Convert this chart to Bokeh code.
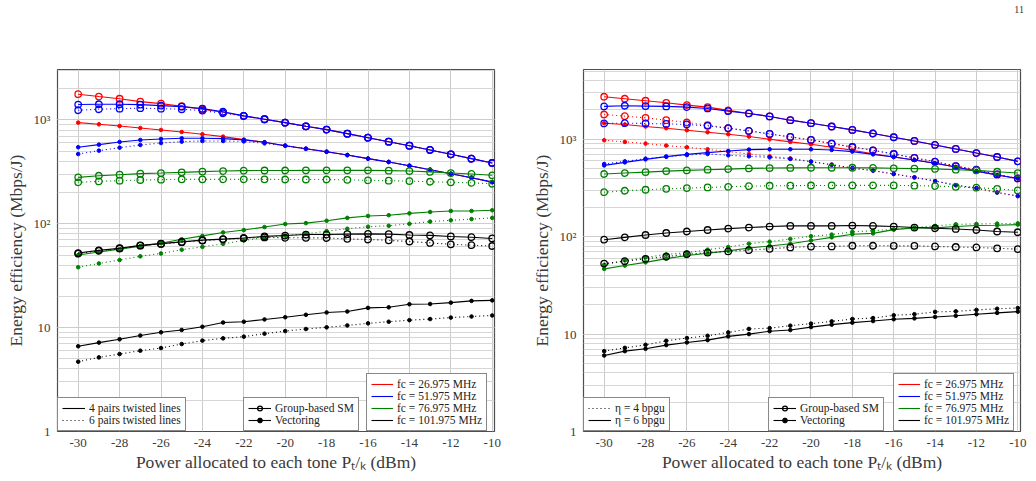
from bokeh.plotting import figure
from bokeh.layouts import row, column
from bokeh.models import ColumnDataSource, Legend, LegendItem, Range1d, Div
from bokeh.embed import file_html
from bokeh.resources import INLINE

# ---------------- data ----------------
power = [-30, -29, -28, -27, -26, -25, -24, -23, -22, -21, -20,
         -19, -18, -17, -16, -15, -14, -13, -12, -11, -10]

# Left chart: 4 pairs (solid) vs 6 pairs (dotted) twisted lines
L_red_sm_4 = [1770, 1680, 1600, 1500, 1435, 1355, 1268, 1187, 1093, 1016, 942,
              869, 807, 738, 675, 617, 565, 514, 467, 424, 385]
L_blue_sm_4 = [1407, 1416, 1416, 1405, 1375, 1343, 1285, 1200, 1095, 1016, 942,
               869, 807, 738, 675, 617, 565, 514, 467, 424, 385]
L_blue_sm_6 = [1240, 1268, 1285, 1297, 1285, 1268, 1230, 1160, 1093, 1016, 942,
               869, 807, 738, 675, 617, 565, 514, 467, 424, 385]
L_red_vec_4 = [942, 908, 875, 837, 801, 766, 728, 691, 646, 610, 565,
               528, 494, 459, 424, 394, 362, 332, 303, 278, 252]
L_blue_vec_4 = [546, 578, 614, 641, 656, 666, 666, 661, 643, 610, 565,
                528, 494, 459, 424, 394, 362, 332, 303, 278, 252]
L_blue_vec_6 = [470, 506, 541, 574, 600, 618, 627, 627, 622, 595, 565,
                528, 494, 459, 424, 394, 362, 332, 303, 278, 252]
L_green_sm_4 = [280, 290, 297, 304, 308, 313, 318, 322, 325, 326, 326,
                327, 327, 327, 327, 325, 322, 316, 308, 302, 293]
L_green_sm_6 = [251, 256, 260, 264, 266, 268, 268, 268, 268, 268, 267,
                267, 267, 265, 262, 260, 258, 254, 251, 248, 243]
L_green_vec_4 = [50, 53.5, 57, 61, 65, 71, 76.5, 82.5, 87, 93, 99.5,
                 101.5, 107, 114, 119, 121, 126, 130, 133, 133, 135]
L_green_vec_6 = [38.2, 41.5, 44.8, 48.6, 51.8, 56.3, 60, 64.1, 69.1, 73.8, 77,
                 80, 85, 89.6, 93.7, 95.7, 100, 105, 108, 111, 114]
L_black_sm_4 = [52.3, 55.5, 58.2, 62, 64.4, 67, 69.6, 71.2, 73, 75.7, 77.1,
                78.8, 78.8, 79.5, 80, 79.5, 78, 77.3, 75.5, 74.3, 72.3]
L_black_sm_6 = [51.5, 55, 57.8, 61.5, 64, 66.5, 69, 70.8, 72.5, 74, 73.3,
                73.3, 73, 71.6, 70.6, 69.3, 67.5, 65.5, 63.5, 62.2, 61.1]
L_black_vec_4 = [6.62, 7.18, 7.73, 8.39, 9.02, 9.5, 10.2, 11.2, 11.4, 12.0, 12.6,
                 13.3, 14.0, 14.3, 15.5, 15.7, 16.8, 16.9, 17.4, 18.1, 18.3]
L_black_vec_6 = [4.70, 5.17, 5.57, 6.0, 6.36, 6.95, 7.5, 7.89, 8.19, 8.75, 9.27,
                 9.70, 10.07, 10.5, 11.0, 11.4, 11.8, 12.1, 12.5, 12.8, 13.1]

# Right chart: eta = 6 bpgu (solid) vs eta = 4 bpgu (dotted)
R_red_sm_6 = [2730, 2604, 2484, 2368, 2242, 2138, 1977, 1841, 1714, 1570, 1462,
              1352, 1247, 1145, 1049, 961, 874, 795, 722, 657, 593]
R_blue_sm_6 = [2173, 2207, 2190, 2173, 2138, 2070, 1943, 1841, 1714, 1570, 1462,
               1352, 1247, 1145, 1049, 961, 874, 795, 722, 657, 593]
R_red_sm_4 = [1796, 1726, 1660, 1570, 1486, 1394, 1297, 1218, 1134, 1056, 984,
              903, 833, 770, 706, 643, 589, 531, 487, 435, 396]
R_blue_sm_4 = [1452, 1462, 1452, 1438, 1419, 1372, 1298, 1218, 1134, 1056, 984,
               903, 833, 770, 706, 643, 589, 531, 487, 435, 396]
R_red_vec_6 = [1462, 1419, 1352, 1298, 1238, 1181, 1127, 1066, 1000, 939, 888,
               827, 770, 711, 657, 612, 566, 519, 471, 429, 396]
R_blue_vec_6 = [539, 579, 622, 663, 700, 729, 758, 783, 789, 789, 789,
                776, 747, 700, 657, 612, 566, 519, 471, 429, 396]
R_red_vec_4 = [977, 939, 903, 861, 827, 789, 747, 706, 668, 637, 589,
               548, 506, 476, 440, 406, 372, 338, 315, 284, 261]
R_blue_vec_4 = [557, 593, 632, 663, 689, 706, 684, 668, 652, 627, 589,
                548, 506, 476, 440, 406, 372, 338, 315, 284, 261]
R_green_sm_6 = [440, 450, 460, 471, 479, 487, 494, 502, 506, 508, 510,
                510, 510, 508, 503, 499, 496, 487, 479, 464, 450]
R_green_sm_4 = [286, 296, 303, 310, 315, 320, 325, 330, 333, 334, 335,
                336, 336, 336, 336, 334, 331, 325, 318, 310, 298]
R_green_vec_6 = [46.7, 50.5, 54.5, 59.5, 64, 67.5, 71.5, 76.4, 80.2, 84.7, 91.5,
                 98.4, 106, 108, 118, 123, 123, 127, 130, 131, 133]
R_green_vec_4 = [51.4, 57, 61.2, 65.8, 68.4, 73.5, 78.3, 84.7, 88.8, 94.7, 101,
                 105, 112, 115, 119, 124, 129, 134, 135, 136, 137]
R_black_sm_6 = [93.1, 98.4, 104, 109, 113, 117, 121, 124, 127, 129, 129,
                129, 130, 129, 127, 124, 122, 120, 117, 113, 111]
R_black_sm_4 = [53, 56, 59.3, 62.4, 66, 68.6, 70.6, 72.7, 75, 77.6, 79.2,
                79.4, 80.7, 80.7, 80.5, 80.5, 79.4, 78.3, 77.5, 76, 74.5]
R_black_vec_6 = [6.03, 6.68, 7.06, 7.71, 8.21, 8.67, 9.47, 10.0, 10.7, 11.0, 11.8,
                 12.5, 13.1, 13.6, 14.2, 14.5, 15.0, 15.4, 16.0, 16.5, 17.0]
R_black_vec_4 = [6.68, 7.22, 7.76, 8.53, 9.1, 9.6, 10.4, 11.3, 11.5, 12.2, 12.8,
                 13.5, 14.3, 14.6, 15.6, 16.0, 16.9, 17.1, 17.7, 18.2, 18.5]

freq_labels = ["fc = 26.975 MHz", "fc = 51.975 MHz", "fc = 76.975 MHz", "fc = 101.975 MHz"]
x_ticks = [-30, -28, -26, -24, -22, -20, -18, -16, -14, -12, -10]
y_tick_labels = {1: "1", 10: "10", 100: "10²", 1000: "10³"}
page_number = "11"

# ---------------- style ----------------
FONT = "Liberation Serif"
RED, BLUE, GREEN, BLACK = "#ff0000", "#0000ff", "#008000", "#000000"
COLORS = [RED, BLUE, GREEN, BLACK]
DOT = "1 3"
TXT = "#3a3a3a"
NAN = float("nan")
HEADER_H = 20


def make_fig(width, ymax, xmax, border_left, border_right, series):
    p = figure(width=width, height=481 - HEADER_H,
               x_range=Range1d(-31, xmax), y_range=Range1d(1, ymax),
               y_axis_type="log", output_backend="svg", toolbar_location=None,
               min_border_left=border_left, min_border_right=border_right,
               min_border_top=69 - HEADER_H, min_border_bottom=50)
    p.outline_line_color = "#4d4d4d"
    p.outline_line_width = 1.2
    p.background_fill_color = "white"
    p.border_fill_color = "white"
    p.xgrid.grid_line_color = "#cccccc"
    p.ygrid.grid_line_color = "#cccccc"
    p.ygrid.minor_grid_line_color = "#d6d6d6"
    p.xgrid.grid_line_width = 1
    p.ygrid.grid_line_width = 1
    p.xaxis.ticker = x_ticks
    p.xaxis.major_label_overrides = {t: str(t) for t in x_ticks}
    p.yaxis.major_label_overrides = y_tick_labels
    for ax in (p.xaxis[0], p.yaxis[0]):
        ax.axis_line_color = None
        ax.major_tick_line_color = None
        ax.minor_tick_line_color = None
        ax.major_tick_out = 0
        ax.minor_tick_out = 0
        ax.major_label_text_font = FONT
        ax.major_label_text_font_size = "13px"
        ax.major_label_text_color = TXT
        ax.axis_label_text_font = FONT
        ax.axis_label_text_font_size = "17.5px"
        ax.axis_label_text_font_style = "normal"
        ax.axis_label_text_color = TXT
    p.xaxis.major_label_standoff = 7
    p.xaxis.axis_label_standoff = 2
    p.yaxis.major_label_standoff = 7
    p.yaxis.axis_label_standoff = 5
    p.xaxis.axis_label = "Power allocated to each tone Pₜ/ₖ (dBm)"
    p.yaxis.axis_label = "Energy efficiency (Mbps/J)"

    for vals, color, dash, marker in series:
        src = ColumnDataSource(dict(x=power, y=vals))
        p.line("x", "y", source=src, line_color=color, line_width=1.1, line_dash=dash)
        if marker == "circle":
            p.scatter("x", "y", source=src, marker="circle", size=6.5,
                      line_color=color, line_width=1.3, fill_color=None)
        else:
            p.scatter("x", "y", source=src, marker="circle", size=3.6,
                      line_color=color, fill_color=color)
    return p


def dummy(p, color, dash="solid", marker=None):
    # legend-only renderers: one NaN point so the legend draws a sample glyph
    src = ColumnDataSource(dict(x=[NAN], y=[NAN]))
    rs = [p.line("x", "y", source=src, line_color=color, line_width=1.1, line_dash=dash)]
    if marker == "circle":
        rs.append(p.scatter("x", "y", source=src, marker="circle", size=7,
                            line_color=color, line_width=1.3, fill_color=None))
    elif marker == "dot":
        rs.append(p.scatter("x", "y", source=src, marker="circle", size=4.5,
                            line_color=color, fill_color=color))
    return rs


def add_legend(p, items, loc, glyph_width=23):
    lg = Legend(items=items, location=loc, orientation="vertical",
                label_text_font=FONT, label_text_font_size="11.5px",
                label_text_color="#222222", label_height=12, glyph_height=12,
                glyph_width=glyph_width, label_standoff=4, spacing=0,
                padding=4, margin=0, border_line_color="#111111",
                border_line_width=1, background_fill_alpha=1.0)
    p.add_layout(lg, "center")


# ---------------- left chart ----------------
left_series = [
    (L_red_sm_4, RED, "solid", "circle"),
    (L_red_vec_4, RED, "solid", "dot"),
    (L_blue_sm_4, BLUE, "solid", "circle"),
    (L_blue_sm_6, BLUE, DOT, "circle"),
    (L_blue_vec_4, BLUE, "solid", "dot"),
    (L_blue_vec_6, BLUE, DOT, "dot"),
    (L_green_sm_4, GREEN, "solid", "circle"),
    (L_green_sm_6, GREEN, DOT, "circle"),
    (L_green_vec_4, GREEN, "solid", "dot"),
    (L_green_vec_6, GREEN, DOT, "dot"),
    (L_black_sm_4, BLACK, "solid", "circle"),
    (L_black_sm_6, BLACK, DOT, "circle"),
    (L_black_vec_4, BLACK, "solid", "dot"),
    (L_black_vec_6, BLACK, DOT, "dot"),
]
p1 = make_fig(520, 3060, -9.89, 57, 26, left_series)
add_legend(p1, [LegendItem(label="4 pairs twisted lines", renderers=dummy(p1, BLACK)),
                LegendItem(label="6 pairs twisted lines", renderers=dummy(p1, BLACK, DOT))],
           (0, 0))
add_legend(p1, [LegendItem(label="Group-based SM", renderers=dummy(p1, BLACK, "solid", "circle")),
                LegendItem(label="Vectoring", renderers=dummy(p1, BLACK, "solid", "dot"))],
           (186, 0))
add_legend(p1, [LegendItem(label=lab, renderers=dummy(p1, c)) for lab, c in zip(freq_labels, COLORS)],
           (309, 0), glyph_width=22)

# ---------------- right chart ----------------
right_series = [
    (R_red_sm_6, RED, "solid", "circle"),
    (R_red_sm_4, RED, DOT, "circle"),
    (R_red_vec_6, RED, "solid", "dot"),
    (R_red_vec_4, RED, DOT, "dot"),
    (R_blue_sm_6, BLUE, "solid", "circle"),
    (R_blue_sm_4, BLUE, DOT, "circle"),
    (R_blue_vec_6, BLUE, "solid", "dot"),
    (R_blue_vec_4, BLUE, DOT, "dot"),
    (R_green_sm_6, GREEN, "solid", "circle"),
    (R_green_sm_4, GREEN, DOT, "circle"),
    (R_green_vec_6, GREEN, "solid", "dot"),
    (R_green_vec_4, GREEN, DOT, "dot"),
    (R_black_sm_6, BLACK, "solid", "circle"),
    (R_black_sm_4, BLACK, DOT, "circle"),
    (R_black_vec_6, BLACK, "solid", "dot"),
    (R_black_vec_4, BLACK, DOT, "dot"),
]
p2 = make_fig(516, 5200, -9.87, 63, 16, right_series)
add_legend(p2, [LegendItem(label="η = 4 bpgu", renderers=dummy(p2, BLACK, DOT)),
                LegendItem(label="η = 6 bpgu", renderers=dummy(p2, BLACK))],
           (0, 0))
add_legend(p2, [LegendItem(label="Group-based SM", renderers=dummy(p2, BLACK, "solid", "circle")),
                LegendItem(label="Vectoring", renderers=dummy(p2, BLACK, "solid", "dot"))],
           (185, 0))
add_legend(p2, [LegendItem(label=lab, renderers=dummy(p2, c)) for lab, c in zip(freq_labels, COLORS)],
           (310, 0), glyph_width=22)

header = Div(text=('<div style="display:block;width:1036px;box-sizing:border-box;'
                   'text-align:right;margin:0;padding:4px 12px 0 0;'
                   'font-family:\'Liberation Serif\';font-size:10px;line-height:11px;'
                   'color:#333333;">' + page_number + '</div>'),
             width=1036, height=HEADER_H, margin=0,
             styles={"overflow": "hidden", "width": "1036px"})

layout = column(header, row(p1, p2, spacing=0), spacing=0)
open("out.html", "w").write(file_html(layout, INLINE))
